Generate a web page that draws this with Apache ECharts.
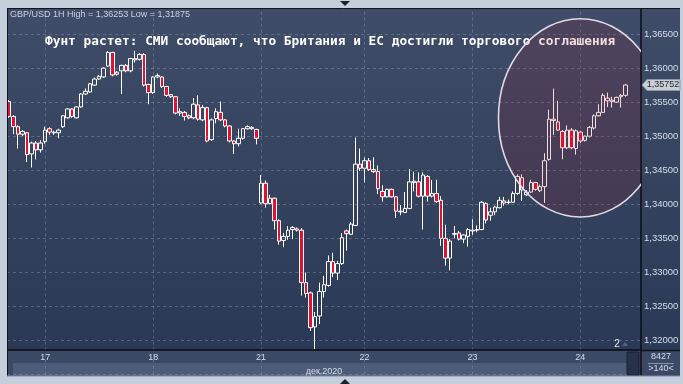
<!DOCTYPE html>
<html>
<head>
<meta charset="utf-8">
<script src="https://cdn.jsdelivr.net/npm/echarts@6/dist/echarts.min.js"></script>
<style>
html,body{margin:0;padding:0;background:#c5cfdb;}
#chart{width:683px;height:384px;}
</style>
</head>
<body>
<div id="chart"></div>
<script>
// ---- data (GBP/USD, 1H bars) ----
const opens = [
1.3551,1.3529,1.3514,1.3503,1.3505,1.3474,1.3490,1.3480,1.3492,1.3511,
1.3506,1.3505,1.3514,1.3527,1.3540,1.3527,1.3543,1.3562,1.3565,1.3575,
1.3584,1.3587,1.3603,1.3623,1.3594,1.3596,1.3604,1.3596,1.3614,1.3613,
1.3620,1.3576,1.3564,1.3587,1.3587,1.3573,1.3561,1.3558,1.3534,1.3535,
1.3530,1.3527,1.3546,1.3524,1.3542,1.3495,1.3526,1.3535,1.3524,1.3515,
1.3493,1.3489,1.3497,1.3511,1.3513,1.3510,1.3402,1.3431,1.3401,1.3409,
1.3376,1.3347,1.3353,1.3363,1.3364,1.3362,1.3285,1.3270,1.3220,1.3236,
1.3272,1.3281,1.3316,1.3299,1.3313,1.3361,1.3356,1.3369,1.3459,1.3453,
1.3464,1.3451,1.3448,1.3419,1.3411,1.3422,1.3411,1.3390,1.3388,1.3394,
1.3434,1.3433,1.3412,1.3441,1.3412,1.3416,1.3406,1.3350,1.3321,1.3356,
1.3358,1.3349,1.3353,1.3361,1.3362,1.3363,1.3401,1.3384,1.3389,1.3395,
1.3405,1.3403,1.3403,1.3416,1.3439,1.3414,1.3418,1.3432,1.3420,1.3426,
1.3466,1.3525,1.3521,1.3507,1.3483,1.3509,1.3482,1.3506,1.3494,1.3500,
1.3512,1.3530,1.3535,1.3556,1.3551,1.3550,1.3558,1.3560];
const closes = [
1.3529,1.3514,1.3503,1.3507,1.3473,1.3490,1.3480,1.3490,1.3509,1.3506,
1.3505,1.3509,1.3530,1.3540,1.3529,1.3543,1.3562,1.3566,1.3577,1.3584,
1.3588,1.3600,1.3623,1.3590,1.3591,1.3604,1.3596,1.3614,1.3612,1.3620,
1.3575,1.3564,1.3587,1.3589,1.3573,1.3560,1.3558,1.3534,1.3536,1.3529,
1.3527,1.3547,1.3525,1.3542,1.3493,1.3524,1.3536,1.3524,1.3515,1.3493,
1.3489,1.3497,1.3511,1.3514,1.3511,1.3497,1.3431,1.3401,1.3409,1.3376,
1.3346,1.3353,1.3362,1.3366,1.3362,1.3285,1.3269,1.3219,1.3235,1.3272,
1.3282,1.3316,1.3299,1.3313,1.3351,1.3357,1.3371,1.3459,1.3453,1.3464,
1.3451,1.3448,1.3423,1.3411,1.3422,1.3411,1.3390,1.3389,1.3394,1.3433,
1.3432,1.3412,1.3443,1.3412,1.3416,1.3404,1.3350,1.3321,1.3346,1.3357,
1.3349,1.3355,1.3363,1.3362,1.3363,1.3403,1.3377,1.3389,1.3396,1.3406,
1.3402,1.3403,1.3416,1.3441,1.3421,1.3418,1.3432,1.3422,1.3426,1.3464,
1.3525,1.3523,1.3509,1.3483,1.3509,1.3483,1.3508,1.3493,1.3500,1.3513,
1.3530,1.3535,1.3560,1.3552,1.3553,1.3557,1.3560,1.35752];
const lows = [
1.3527,1.3503,1.3482,1.3500,1.3462,1.3454,1.3466,1.3476,1.3489,1.3502,
1.3502,1.3497,1.3512,1.3526,1.3527,1.3526,1.3542,1.3561,1.3564,1.3574,
1.3583,1.3586,1.3602,1.3588,1.3589,1.3562,1.3594,1.3594,1.3608,1.3611,
1.3573,1.3547,1.3562,1.3585,1.3571,1.3558,1.3556,1.3532,1.3530,1.3523,
1.3525,1.3525,1.3523,1.3522,1.3491,1.3493,1.3519,1.3522,1.3513,1.3491,
1.3474,1.3485,1.3495,1.3510,1.3509,1.3488,1.3401,1.3395,1.3400,1.3363,
1.3341,1.3337,1.3348,1.3349,1.3360,1.3266,1.3263,1.3214,1.31875,1.3224,
1.3263,1.3279,1.3293,1.3289,1.3311,1.3332,1.3355,1.3368,1.3449,1.3432,
1.3449,1.3446,1.3415,1.3404,1.3410,1.3410,1.3380,1.3384,1.3387,1.3393,
1.3419,1.3410,1.3363,1.3404,1.3410,1.3402,1.3339,1.3310,1.3303,1.3350,
1.3347,1.3343,1.3338,1.3355,1.3359,1.3362,1.3372,1.3376,1.3384,1.3394,
1.3398,1.3400,1.3402,1.3414,1.3405,1.3412,1.3417,1.3420,1.3418,1.3402,
1.3464,1.3502,1.3508,1.3466,1.3481,1.3481,1.3473,1.3490,1.3492,1.3498,
1.3510,1.3529,1.3534,1.3543,1.3542,1.3549,1.3542,1.3558];
const highs = [
1.3553,1.3531,1.3516,1.3509,1.3506,1.3492,1.3493,1.3494,1.3514,1.3513,
1.3508,1.3511,1.3531,1.3541,1.3541,1.3544,1.3563,1.3570,1.3578,1.3586,
1.3590,1.3601,1.3625,1.3624,1.3596,1.3605,1.3606,1.3615,1.36253,1.3622,
1.3622,1.3577,1.3588,1.3592,1.3588,1.3574,1.3562,1.3559,1.3541,1.3537,
1.3532,1.3556,1.3560,1.3546,1.3543,1.3526,1.3541,1.3551,1.3525,1.3516,
1.3494,1.3511,1.3512,1.3516,1.3515,1.3511,1.3443,1.3435,1.3414,1.3410,
1.3378,1.3358,1.3368,1.3368,1.3366,1.3365,1.3300,1.3272,1.3242,1.3285,
1.3295,1.3325,1.3329,1.3317,1.3358,1.3363,1.3374,1.3498,1.3482,1.3469,
1.3468,1.3469,1.3457,1.3428,1.3423,1.3423,1.3412,1.3399,1.3418,1.3452,
1.3448,1.3447,1.3447,1.3443,1.3436,1.3436,1.3412,1.3370,1.3349,1.3368,
1.3361,1.3356,1.3365,1.3378,1.3369,1.3405,1.3403,1.3395,1.3398,1.3411,
1.3411,1.3407,1.3419,1.3444,1.3444,1.3421,1.3436,1.3433,1.3429,1.3475,
1.3539,1.3570,1.3552,1.3509,1.3516,1.3512,1.3510,1.3508,1.3501,1.3515,
1.3532,1.3547,1.3563,1.3564,1.3558,1.3558,1.3562,1.35765];

const slotCount = 141;                       // visible bar slots (>140<)
const dayStartIndex = [8, 32, 56, 79, 103, 127];
const dayLabels = ['17', '18', '21', '22', '23', '24'];
const monthLabel = 'дек.2020';
const symbolName = 'GBP/USD 1H';
const headline = 'Фунт растет: СМИ сообщают, что Британия и ЕС достигли торгового соглашения';
const yMin = 1.315, yMax = 1.37, yStep = 0.005;
const yLabelMin = 1.32, yLabelMax = 1.365;
// highlight ellipse (annotation) in data terms: centre bar / price, half-width in bars, half-height in price
const ringCenterBar = 127, ringCenterPrice = 1.3527, ringHalfBars = 18.2, ringHalfPrice = 0.01455;

// ---- build library inputs ----
const categories = [];
for (let i = 0; i < slotCount; i++) {
  const k = dayStartIndex.indexOf(i);
  categories.push(k >= 0 ? dayLabels[k] : '');
}
const ohlc = opens.map((o, i) => [o, closes[i], lows[i], highs[i]]);
const fmt = v => v.toFixed(5).replace('.', ',');
const hi = Math.max(...highs), lo = Math.min(...lows);
const lastClose = closes[closes.length - 1];

const chart = echarts.init(document.getElementById('chart'), null, {renderer: 'canvas'});
const labelColor = '#d6deec';
const F = 'Liberation Sans';

chart.setOption({
  animation: false,
  backgroundColor: {
    type: 'linear', x: 0, y: 0, x2: 0, y2: 1,
    colorStops: [{offset: 0, color: '#404d69'}, {offset: 1, color: '#283753'}]
  },
  title: [
    {text: symbolName + ' High = ' + fmt(hi) + ' Low = ' + fmt(lo), left: 10, top: 10, padding: 0,
     textStyle: {color: '#c9d2e3', fontSize: 9, fontWeight: 'normal', fontFamily: F}},
    {text: headline, left: 45, top: 35, padding: 0,
     textStyle: {color: '#ffffff', fontSize: 12.8, fontWeight: 'bold', fontFamily: 'DejaVu Sans Mono'}}
  ],
  grid: {left: 7, right: 42, top: -3.3, bottom: 9.4, containLabel: false},
  xAxis: {
    type: 'category', data: categories, boundaryGap: true, offset: -24.6, z: 5,
    axisLine: {onZero: false, lineStyle: {color: '#0b0e15', width: 1.5}},
    axisTick: {show: false},
    splitLine: {show: false},
    axisLabel: {interval: 0, color: labelColor, fontSize: 9, fontFamily: F, margin: 3},
    name: monthLabel, nameLocation: 'middle', nameGap: 16,
    nameTextStyle: {color: labelColor, fontSize: 9, fontFamily: F}
  },
  yAxis: {
    type: 'value', position: 'right', min: yMin, max: yMax, interval: yStep, scale: true, z: 4,
    axisLine: {show: true, lineStyle: {color: '#0b0e15', width: 1.5}},
    axisTick: {show: false},
    axisLabel: {
      color: labelColor, fontSize: 9.5, fontFamily: F, margin: 3,
      formatter: v => (v < yLabelMin - 1e-9 || v > yLabelMax + 1e-9) ? '' : fmt(v)
    },
    splitLine: {lineStyle: {color: 'rgba(150,165,195,0.38)', type: [3, 3], width: 1}}
  },
  series: [
    {
      type: 'line', data: [], z: 1, silent: true,
      markLine: {
        symbol: 'none', silent: true, label: {show: false},
        lineStyle: {color: 'rgba(150,165,195,0.38)', type: [3, 3], width: 1},
        data: dayStartIndex.map(i => ({xAxis: i}))
      }
    },
    {
      type: 'candlestick', data: ohlc, z: 2, barWidth: 4, silent: true,
      itemStyle: {
        color: 'rgba(0,0,0,0)', color0: '#e3112f',
        borderColor: '#ffffff', borderColor0: '#ffffff', borderColorDoji: '#ffffff',
        borderWidth: 1
      }
    },
    {
      type: 'custom', z: 10, silent: true, clip: true,
      data: [[ringCenterBar, ringCenterPrice]],
      renderItem: (params, api) => {
        const c = api.coord([api.value(0), api.value(1)]);
        const bw = api.size([1, 0])[0];
        const ry = api.size([0, ringHalfPrice * 2])[1] / 2;
        return {
          type: 'ellipse',
          shape: {cx: c[0], cy: c[1], rx: bw * ringHalfBars, ry: ry},
          style: {fill: 'rgba(165,20,30,0.15)', stroke: 'rgba(232,226,236,0.95)', lineWidth: 1.6}
        };
      }
    }
  ]
});

// decorations / frame + last price tag
const tagY = chart.convertToPixel({yAxisIndex: 0}, lastClose);
const light = '#c5cfdb', dark = '#10141c';
chart.setOption({
  graphic: [
    {type: 'rect', shape: {x: 7, y: 351, width: 634, height: 25}, style: {fill: '#3b4965'}, z: 3, silent: true},
    {type: 'rect', shape: {x: 13, y: 363, width: 614, height: 13}, style: {fill: '#4d5c79'}, z: 3, silent: true},
    {type: 'rect', shape: {x: 627, y: 352, width: 12, height: 23}, style: {fill: '#27324a', stroke: '#1b2232', lineWidth: 1}, z: 4, silent: true},
    {type: 'rect', shape: {x: 641, y: 351, width: 39, height: 25}, style: {fill: '#3b4965'}, z: 3, silent: true},
    {type: 'line', shape: {x1: 641, y1: 350.5, x2: 680, y2: 350.5}, style: {stroke: dark, lineWidth: 1.5}, z: 6, silent: true},
    {type: 'line', shape: {x1: 648, y1: 363.5, x2: 674, y2: 363.5}, style: {stroke: '#8593ad', lineWidth: 1}, z: 6, silent: true},
    {type: 'text', x: 661, y: 357, style: {text: '8427', fill: labelColor, fontSize: 9, fontFamily: F, align: 'center', verticalAlign: 'middle'}, z: 21, silent: true},
    {type: 'text', x: 661, y: 369, style: {text: '>140<', fill: labelColor, fontSize: 9, fontFamily: F, align: 'center', verticalAlign: 'middle'}, z: 21, silent: true},
    {type: 'text', x: 617, y: 344, style: {text: '2', fill: '#e6ebf5', fontSize: 10, fontFamily: F, align: 'center', verticalAlign: 'middle'}, z: 21, silent: true},
    {type: 'polygon', shape: {points: [[622, 346], [628, 346], [625, 342]]}, style: {fill: '#55637f'}, z: 21, silent: true},
    // outer light frame
    {type: 'rect', shape: {x: 0, y: 0, width: 683, height: 8}, style: {fill: light}, z: 20, silent: true},
    {type: 'rect', shape: {x: 0, y: 0, width: 7, height: 384}, style: {fill: light}, z: 20, silent: true},
    {type: 'rect', shape: {x: 680, y: 0, width: 3, height: 384}, style: {fill: light}, z: 20, silent: true},
    {type: 'rect', shape: {x: 0, y: 376, width: 683, height: 8}, style: {fill: light}, z: 20, silent: true},
    {type: 'line', shape: {x1: 7, y1: 8.5, x2: 680, y2: 8.5}, style: {stroke: dark, lineWidth: 1}, z: 21, silent: true},
    {type: 'line', shape: {x1: 7.5, y1: 8, x2: 7.5, y2: 376}, style: {stroke: dark, lineWidth: 1}, z: 21, silent: true},
    {type: 'line', shape: {x1: 7, y1: 376, x2: 680, y2: 376}, style: {stroke: '#7d8aa0', lineWidth: 1}, z: 21, silent: true},
    {type: 'polygon', shape: {points: [[340, 1], [350, 1], [345, 6]]}, style: {fill: '#1a2130'}, z: 21, silent: true},
    {type: 'polygon', shape: {points: [[340, 384], [350, 384], [345, 379]]}, style: {fill: '#1a2130'}, z: 21, silent: true},
    // last price tag on the price scale
    {type: 'polygon', shape: {points: [[642, tagY], [647, tagY - 5.5], [680, tagY - 5.5], [680, tagY + 5.5], [647, tagY + 5.5]]},
     style: {fill: '#c9ced6', stroke: '#8e97a6', lineWidth: 1}, z: 22, silent: true},
    {type: 'text', x: 663, y: tagY, style: {text: fmt(lastClose), fill: '#1c2230', fontSize: 9, fontFamily: F, align: 'center', verticalAlign: 'middle'}, z: 23, silent: true}
  ]
});
</script>
</body>
</html>
